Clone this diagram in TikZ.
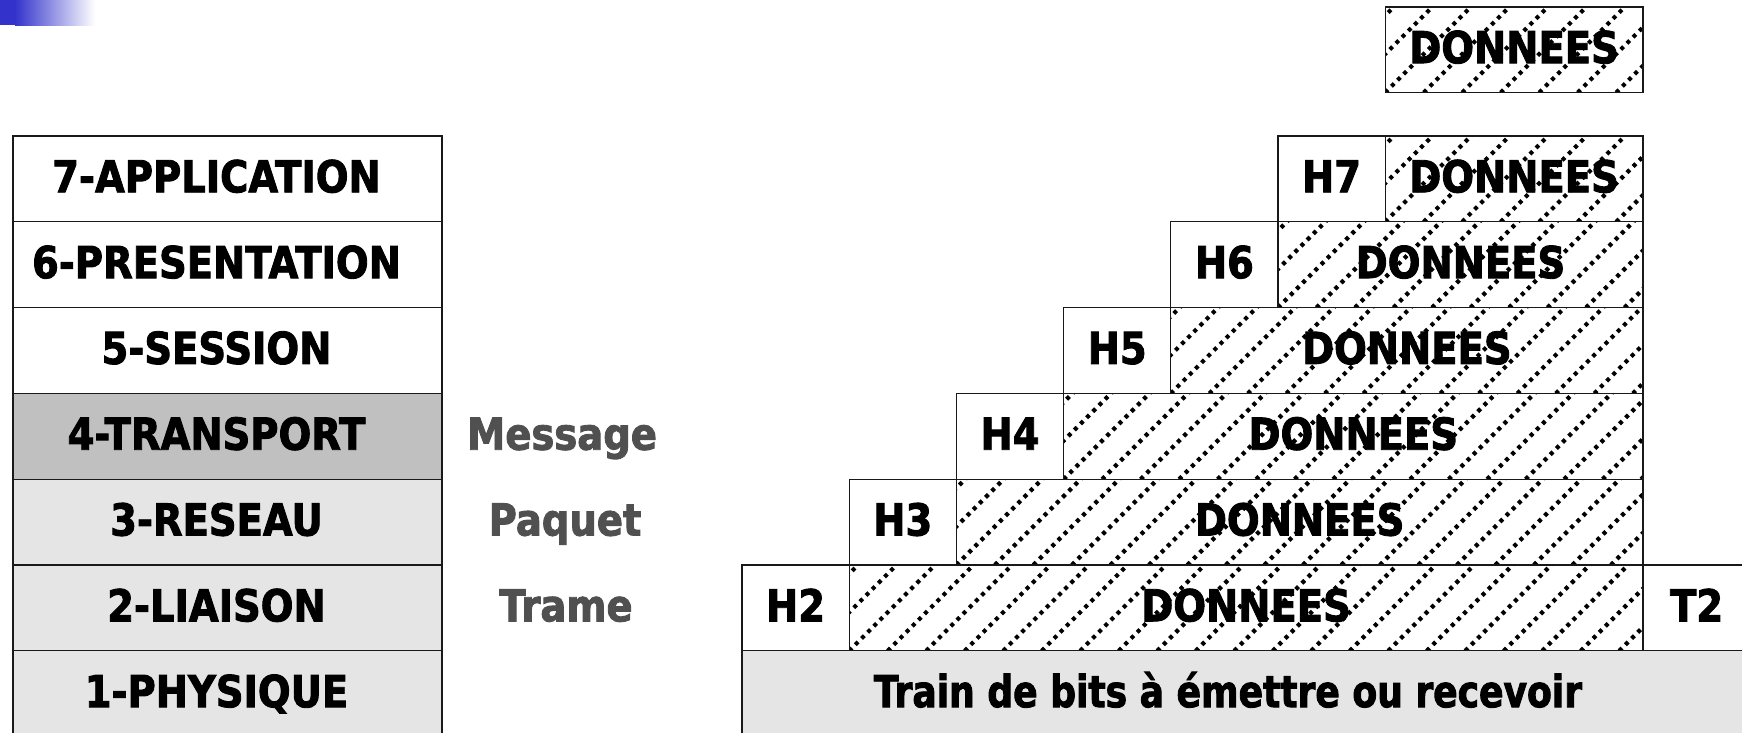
\documentclass[tikz,border=0pt]{standalone}
\usepackage{fontspec}
\newfontfamily\tahfont{DejaVu Sans}[FakeStretch=0.875, BoldFeatures={FakeBold=2}]
\newfontfamily\trainfont{DejaVu Sans}[FakeStretch=0.82, BoldFeatures={FakeBold=2}]
\definecolor{gradblue}{RGB}{51,51,204}
\definecolor{midgrey}{RGB}{192,192,192}
\definecolor{lightgrey}{RGB}{229,229,229}
\definecolor{labelgrey}{RGB}{80,80,80}
\definecolor{edgecol}{RGB}{25,25,25}
\tikzset{
  txt/.style={font=\tahfont\bfseries\fontsize{44}{50}\selectfont, inner sep=0pt,
    text height=32pt, text depth=5.2pt},
  cell/.style={txt, draw=edgecol, line width=1.2pt, fill=white,
    minimum height=85.8pt},
  layerbox/.style={cell, minimum width=429pt},
  hdr/.style={cell, minimum width=107.2pt},
  hatchline/.style={black, line width=4.2pt, dash pattern=on 3.9pt off 4.8pt},
  hatched/.style={cell, path picture={
      \foreach \k in {-4,...,24}{
        \draw[hatchline] ([xshift=\k*38.5pt]path picture bounding box.south west) -- ++(130pt,130pt);
      }}},
  unitlbl/.style={txt, text=labelgrey}
}
\begin{document}
\begin{tikzpicture}[x=1pt,y=-1pt]
\useasboundingbox (0,0) rectangle (1742,732);
% corner decoration
\fill[gradblue] (0,0) rectangle (15,24.5);
\shade[left color=gradblue, right color=white] (15,0) rectangle (95,25);

% left column: OSI layers
\node[layerbox] (L7) at (227.5,178.9) {};
\node[layerbox] (L6) at (227.5,264.7) {};
\node[layerbox] (L5) at (227.5,350.5) {};
\node[layerbox, fill=midgrey] (L4) at (227.5,436.3) {};
\node[layerbox, fill=lightgrey] (L3) at (227.5,522.1) {};
\node[layerbox, fill=lightgrey] (L2) at (227.5,607.9) {};
\node[layerbox, fill=lightgrey] (L1) at (227.5,693.7) {};
\node[txt] (L7t) at ([xshift=-11pt]L7.center) {7-APPLICATION};
\node[txt] (L6t) at ([xshift=-11pt]L6.center) {6-PRESENTATION};
\node[txt] (L5t) at ([xshift=-11pt]L5.center) {5-SESSION};
\node[txt] (L4t) at ([xshift=-11pt]L4.center) {4-TRANSPORT};
\node[txt] (L3t) at ([xshift=-11pt]L3.center) {3-RESEAU};
\node[txt] (L2t) at ([xshift=-11pt]L2.center) {2-LIAISON};
\node[txt] (L1t) at ([xshift=-11pt]L1.center) {1-PHYSIQUE};

% unit names
\node[unitlbl] (msg) at (562,436.3) {Message};
\node[unitlbl] (paq) at (565,522.1) {Paquet};
\node[unitlbl] (trm) at (566,607.9) {Trame};

% encapsulation staircase
\node[hatched, minimum width=257.8pt, minimum height=85.5pt] (D8) at (1514.1,49.75) {DONNEES};

\node[hdr] (H7) at (1331.6,178.9) {H7};
\node[hatched, minimum width=257.8pt] (D7) at (1514.1,178.9) {DONNEES};

\node[hdr] (H6) at (1224.4,264.7) {H6};
\node[hatched, minimum width=365pt] (D6) at (1460.5,264.7) {DONNEES};

\node[hdr] (H5) at (1117.2,350.5) {H5};
\node[hatched, minimum width=472.2pt] (D5) at (1406.9,350.5) {DONNEES};

\node[hdr] (H4) at (1010,436.3) {H4};
\node[hatched, minimum width=579.4pt] (D4) at (1353.3,436.3) {DONNEES};

\node[hdr] (H3) at (902.8,522.1) {H3};
\node[hatched, minimum width=686.6pt] (D3) at (1299.7,522.1) {DONNEES};

\node[hdr] (H2) at (795.6,607.9) {H2};
\node[hatched, minimum width=793.8pt] (D2) at (1246.1,607.9) {DONNEES};
\node[hdr] (T2) at (1696.6,607.9) {T2};

% physical layer bit train
\node[cell, fill=lightgrey, minimum width=1018pt] (bits) at (1251,693.7) {};
\node[txt, font=\trainfont\bfseries\fontsize{44}{50}\selectfont] (bitst) at (1228,693.7) {Train de bits à émettre ou recevoir};
\end{tikzpicture}
\end{document}
